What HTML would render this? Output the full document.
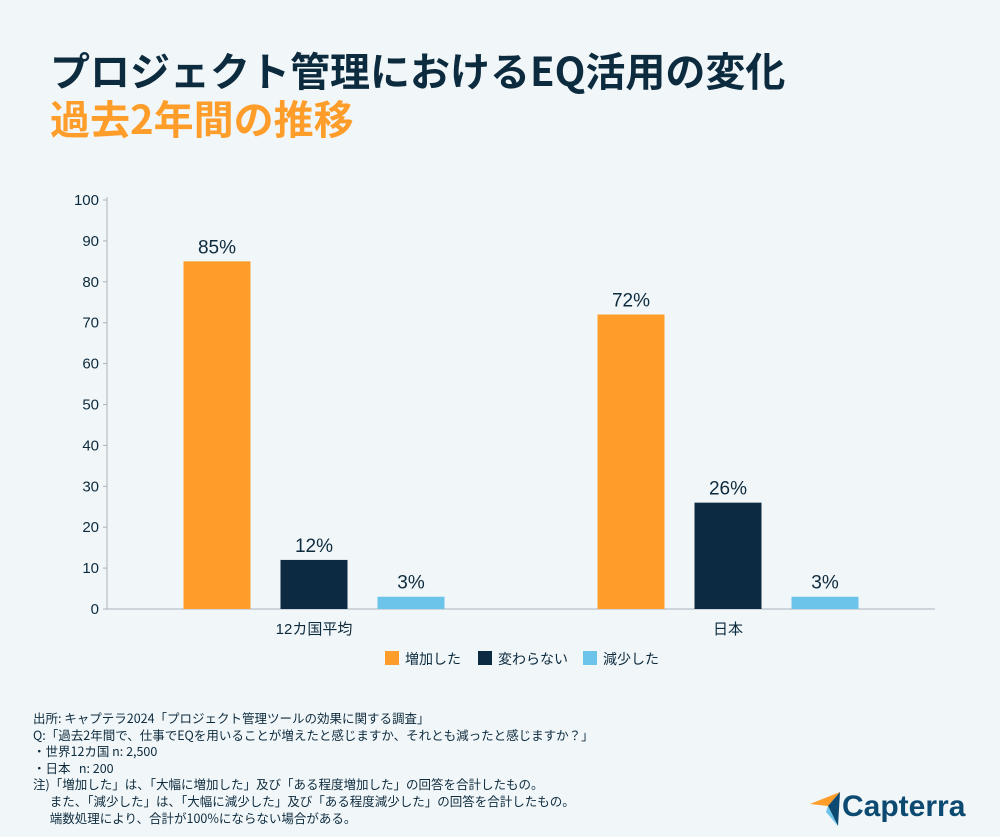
<!DOCTYPE html>
<html><head><meta charset="utf-8"><style>
body{margin:0;width:1000px;height:837px;background:#f1f6f8;font-family:"Liberation Sans","Noto Sans CJK JP",sans-serif;overflow:hidden;position:relative;color:#0d2b3e}
.t{position:absolute;left:50px;font-weight:bold;font-size:40px;white-space:nowrap;font-family:"Noto Sans CJK JP",sans-serif}
.notes{position:absolute;left:33px;top:710px;font-size:12.5px;line-height:16.6px;white-space:pre;font-family:"Noto Sans CJK JP",sans-serif}
</style></head><body>
<div class="t" style="top:40px">プロジェクト管理におけるEQ活用の変化</div>
<div class="t" style="top:88px;color:#ff9d2a">過去2年間の推移</div>
<svg id="c" width="1000" height="700" style="position:absolute;left:0;top:0"></svg>
<div class="notes">出所: キャプテラ2024「プロジェクト管理ツールの効果に関する調査」
Q:「過去2年間で、仕事でEQを用いることが増えたと感じますか、それとも減ったと感じますか？」
・世界12カ国 n: 2,500
・日本   n: 200
注)「増加した」は、「大幅に増加した」及び「ある程度増加した」の回答を合計したもの。
      また、「減少した」は、「大幅に減少した」及び「ある程度減少した」の回答を合計したもの。
      端数処理により、合計が100%にならない場合がある。</div>
<div style="position:absolute;left:808px;top:790px;width:160px;height:40px">
<svg width="40" height="40" style="position:absolute;left:0;top:0"><polygon points="2,14 32,2 20,16" fill="#ff9d2a"/><polygon points="20,16 32,2 30,36" fill="#0d4a72"/><polygon points="20,16 30,36 18,22" fill="#6cc4ea"/></svg>
<span style="position:absolute;left:34px;top:0;font-size:30px;font-weight:bold;color:#0d4a72">Capterra</span></div>
<script>
const categories=["12カ国平均","日本"];
const seriesNames=["増加した","変わらない","減少した"];
const increased=[85,72];
const unchanged=[12,26];
const decreased=[3,3];
const yTicks=[0,10,20,30,40,50,60,70,80,90,100];
const colors=["#ff9d2a","#0c2a41","#6cc4ea"];
const svg=document.getElementById('c');const NS="http://www.w3.org/2000/svg";
const x0=107,x1=935,yb=609,yt=200;
const y=v=>yb-(yb-yt)*v/100;
const cw=(x1-x0)/categories.length;
function mk(t,a,txt){const e=document.createElementNS(NS,t);for(const k in a)e.setAttribute(k,a[k]);if(txt!=null)e.textContent=txt;svg.appendChild(e);return e;}
let e=mk('line',{x1:x0,x2:x0,y1:yt-3,y2:yb,stroke:'#aab4bb'});


e=mk('line',{x1:x0,x2:x1,y1:yb,y2:yb,stroke:'#aab4bb'});


yTicks.forEach(t=>{mk('line',{x1:x0-4,x2:x0,y1:y(t),y2:y(t),stroke:'#aab4bb'});
e=mk('text',{x:x0-8,y:y(t)+5,'text-anchor':'end','font-size':15,fill:'#0d2b3e'},t);

});
const series=[increased,unchanged,decreased];
categories.forEach((c,i)=>{const cx=x0+cw*(i+0.5);
e=mk('text',{x:cx,y:yb+25,'text-anchor':'middle','font-size':15,fill:'#0d2b3e'},c);


series.forEach((s,j)=>{const bx=cx+(j-1)*97-33.5;
e=mk('rect',{x:bx,y:y(s[i]),width:67,height:yb-y(s[i]),fill:colors[j]});


e=mk('text',{x:bx+33.5,y:y(s[i])-8,'text-anchor':'middle','font-size':19,fill:'#0d2b3e'},s[i]+'%');

});});
const lx=[385,478,583];
seriesNames.forEach((n,j)=>{e=mk('rect',{x:lx[j],y:651,width:14,height:14,fill:colors[j]});


e=mk('text',{x:lx[j]+20,y:664,'font-size':14,fill:'#0d2b3e'},n);

});
</script>
</body></html>
